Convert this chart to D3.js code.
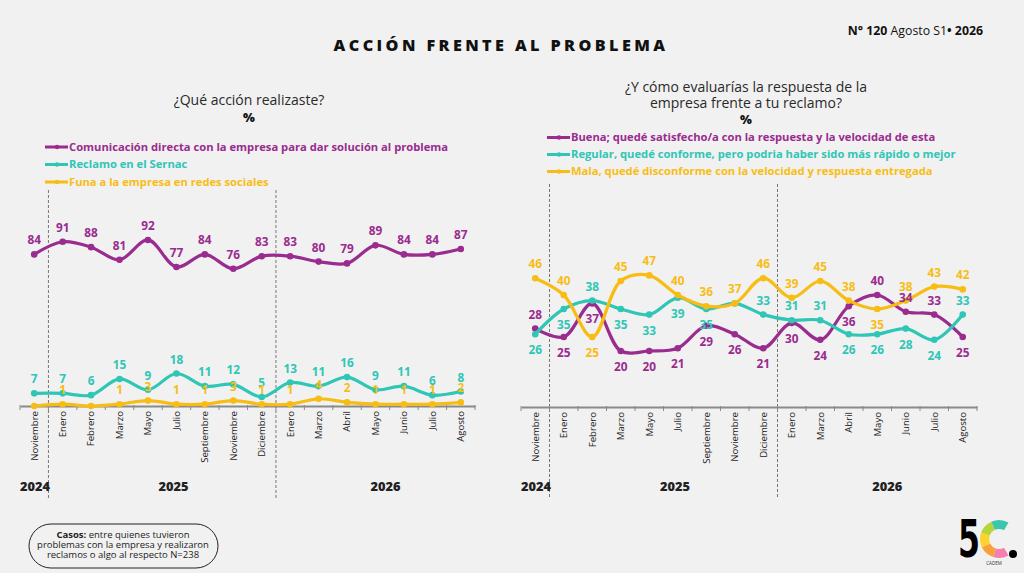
<!DOCTYPE html>
<html>
<head>
<meta charset="utf-8">
<script src="https://cdn.jsdelivr.net/npm/d3@7"></script>
<style>
  html, body { margin: 0; padding: 0; background: #f1f1f1; }
  svg { display: block; font-family: "Open Sans", "Noto Sans", sans-serif; }
</style>
</head>
<body>
<svg id="chart" width="1024" height="573"></svg>
<script>
// ---------- DATA ----------
const monthsLeft = ["Noviembre","Enero","Febrero","Marzo","Mayo","Julio","Septiembre","Noviembre","Diciembre","Enero","Marzo","Abril","Mayo","Junio","Julio","Agosto"];
const monthsRight = ["Noviembre","Enero","Febrero","Marzo","Mayo","Julio","Septiembre","Noviembre","Diciembre","Enero","Marzo","Abril","Mayo","Junio","Julio","Agosto"];
const years = ["2024","2025","2026"];

const comunicacion = [84,91,88,81,92,77,84,76,83,83,80,79,89,84,84,87];
const sernac       = [7,7,6,15,9,18,11,12,5,13,11,16,9,11,6,8];
const funa         = [0,1,0,1,3,1,1,3,1,1,4,2,1,1,1,2];

const buena   = [28,25,37,20,20,21,29,26,21,30,24,36,40,34,33,25];
const regular = [26,35,38,35,33,39,35,37,33,31,31,26,26,28,24,33];
const mala    = [46,40,25,45,47,40,36,37,46,39,45,38,35,38,43,42];

const legendLeft = ["Comunicación directa con la empresa para dar solución al problema","Reclamo en el Sernac","Funa a la empresa en redes sociales"];
const legendRight = ["Buena; quedé satisfecho/a con la respuesta y la velocidad de esta","Regular, quedé conforme, pero podria haber sido más rápido o mejor","Mala, quedé disconforme con la velocidad y respuesta entregada"];

// label placement (layout only): a = above, b = below, n = hidden
const placeBuena   = "abbbbbbbbbbbaaab";
const placeRegular = "bbabbbbnaaabbbba";
const placeMala    = "aabaaaaaaaaabaaa";

// ---------- STYLE ----------
const PURPLE = "#9a2b8f", CYAN = "#2fc6b6", YELLOW = "#f8bd14";
const svg = d3.select("#chart");
svg.append("rect").attr("width",1024).attr("height",573).attr("fill","#f1f1f1");

// header
svg.append("text").attr("x",501).attr("y",51).attr("text-anchor","middle")
  .attr("font-size",16.2).attr("font-weight",800).attr("letter-spacing",3.4).attr("fill","#111")
  .text("ACCIÓN FRENTE AL PROBLEMA");
const hdr = svg.append("text").attr("x",983).attr("y",35).attr("text-anchor","end").attr("font-size",12.3).attr("fill","#111");
hdr.append("tspan").attr("font-weight",700).text("N°  120 ");
hdr.append("tspan").attr("font-weight",400).text("Agosto S1");
hdr.append("tspan").attr("font-weight",700).text("• 2026");

function drawChart(cfg) {
  const g = svg.append("g");
  const x = d3.scaleBand().domain(d3.range(cfg.months.length)).range(cfg.xRange).padding(0);
  const y = d3.scaleLinear().domain([0,100]).range(cfg.yRange);
  const cx = i => x(i) + x.bandwidth()/2;
  const y0 = y(0);

  // subtitle
  cfg.subtitle.forEach((t,i) => {
    g.append("text").attr("x",cfg.subX).attr("y",cfg.subY + i*15.5).attr("text-anchor","middle")
      .attr("font-size",14).attr("fill","#2a2a2a").text(t);
  });
  g.append("text").attr("x",cfg.subX).attr("y",cfg.subY + cfg.subtitle.length*15.5 + 1).attr("text-anchor","middle")
    .attr("font-size",12.5).attr("font-weight",800).attr("fill","#111").text("%");

  // legend
  cfg.series.forEach((s,i) => {
    const ly = cfg.legY + i*cfg.legStep;
    g.append("line").attr("x1",cfg.legX).attr("x2",cfg.legX+23).attr("y1",ly).attr("y2",ly)
      .attr("stroke",s.color).attr("stroke-width",3);
    g.append("circle").attr("cx",cfg.legX+12).attr("cy",ly).attr("r",2.2).attr("fill",s.color);
    g.append("text").attr("x",cfg.legX+24).attr("y",ly+3.9).attr("font-size",11.2).attr("font-weight",700)
      .attr("fill",s.color).text(s.name);
  });

  // year separators
  [1,9].forEach(b => {
    g.append("line").attr("x1",x(b)).attr("x2",x(b)).attr("y1",cfg.dashTop).attr("y2",498)
      .attr("stroke","#555").attr("stroke-width",0.8).attr("stroke-dasharray","3,2");
  });

  // axis
  const axis = d3.axisBottom(x).tickSize(0).tickFormat("");
  const ag = g.append("g").attr("transform",`translate(0,${y0})`).call(axis);
  ag.select(".domain").attr("stroke","#8a8a8a").attr("stroke-width",2);
  d3.range(cfg.months.length+1).forEach(b => {
    const bx = b < cfg.months.length ? x(b) : cfg.xRange[1];
    g.append("line").attr("x1",bx).attr("x2",bx).attr("y1",y0-1).attr("y2",y0+4)
      .attr("stroke","#8a8a8a").attr("stroke-width",1);
  });
  cfg.months.forEach((m,i) => {
    g.append("text").attr("transform",`translate(${cx(i)},${y0+5}) rotate(-90)`)
      .attr("text-anchor","end").attr("dy","0.35em").attr("font-size",9.6).attr("fill","#222").text(m);
  });
  // year labels
  g.append("text").attr("x",cfg.xRange[0]).attr("y",491).attr("font-size",12.8).attr("font-weight",800).attr("fill","#222").text(years[0]);
  g.append("text").attr("x",cfg.xRange[0] + x.bandwidth()*5.4).attr("y",491).attr("text-anchor","middle").attr("font-size",12.8).attr("font-weight",800).attr("fill","#222").text(years[1]);
  g.append("text").attr("x",cfg.xRange[0] + x.bandwidth()*12.85).attr("y",491).attr("text-anchor","middle").attr("font-size",12.8).attr("font-weight",800).attr("fill","#222").text(years[2]);

  // lines
  const line = d3.line().x((d,i)=>cx(i)).y(d=>y(d)).curve(d3.curveCatmullRom.alpha(0.5));
  cfg.series.forEach(s => {
    g.append("path").attr("d",line(s.values)).attr("fill","none").attr("stroke",s.color)
      .attr("stroke-width",3.2).attr("stroke-linecap","round");
    g.selectAll(null).data(s.values).enter().append("circle")
      .attr("cx",(d,i)=>cx(i)).attr("cy",d=>y(d)).attr("r",3.3).attr("fill",s.color);
  });
  // labels
  cfg.series.forEach(s => {
    s.values.forEach((v,i) => {
      const p = s.place ? s.place[i] : "a";
      if (p === "n" || (s.hideZero && v === 0)) return;
      g.append("text").attr("x",cx(i)).attr("y", y(v) + (p === "a" ? -10 : 20))
        .attr("text-anchor","middle").attr("font-size",11.8).attr("font-weight",700)
        .attr("fill",s.color).text(v);
    });
  });
}

drawChart({
  months: monthsLeft, xRange: [20,475], yRange: [406,225.5],
  subtitle: ["¿Qué acción realizaste?"], subX: 249, subY: 105,
  legX: 45, legY: 147, legStep: 17.5, dashTop: 190,
  series: [
    {name: legendLeft[0], values: comunicacion, color: PURPLE},
    {name: legendLeft[1], values: sernac, color: CYAN},
    {name: legendLeft[2], values: funa, color: YELLOW, hideZero: true}
  ]
});

drawChart({
  months: monthsRight, xRange: [521,977], yRange: [407,127],
  subtitle: ["¿Y cómo evaluarías la respuesta de la","empresa frente a tu reclamo?"], subX: 746, subY: 92,
  legX: 547, legY: 137.5, legStep: 17, dashTop: 184,
  series: [
    {name: legendRight[0], values: buena, color: PURPLE, place: placeBuena},
    {name: legendRight[1], values: regular, color: CYAN, place: placeRegular},
    {name: legendRight[2], values: mala, color: YELLOW, place: placeMala}
  ]
});

// footer note
svg.append("rect").attr("x",29).attr("y",524).attr("width",189).attr("height",44).attr("rx",22)
  .attr("fill","none").attr("stroke","#222").attr("stroke-width",1);
const note = ["", "problemas con la empresa y realizaron", "reclamos o algo al respecto N=238"];
const t1 = svg.append("text").attr("x",123).attr("y",538).attr("text-anchor","middle").attr("font-size",9.5).attr("fill","#222");
t1.append("tspan").attr("font-weight",700).text("Casos:");
t1.append("tspan").text(" entre quienes tuvieron");
note.slice(1).forEach((t,i)=>{
  svg.append("text").attr("x",123).attr("y",548+i*9.8).attr("text-anchor","middle").attr("font-size",9.5).attr("fill","#222").text(t);
});

// logo
svg.append("text").attr("transform","translate(958,557) scale(0.62,1)").attr("font-size",51)
  .attr("font-weight",800).attr("font-family","DejaVu Sans").attr("fill","#000").text("5");
const arc = d3.arc().innerRadius(10).outerRadius(19);
const logoCols = ["#f47fae","#f8a03a","#fcd32f","#b7d43a","#3cc6ae"];
const deg = Math.PI/180;
const segs = [[150,198],[198,244],[244,290],[290,336],[336,390]];
segs.forEach((s,i)=>{
  svg.append("path").attr("transform","translate(999,539)")
    .attr("d",arc({startAngle:s[0]*deg,endAngle:s[1]*deg})).attr("fill",logoCols[i]);
});
svg.append("circle").attr("cx",1013).attr("cy",554).attr("r",4).attr("fill","#000");
svg.append("text").attr("x",994).attr("y",565).attr("text-anchor","middle").attr("font-size",4.5).attr("fill","#333").text("CADEM");
</script>
</body>
</html>
